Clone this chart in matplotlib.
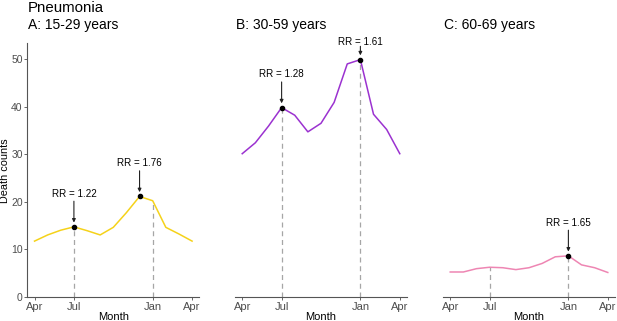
import matplotlib.pyplot as plt

plt.rcParams["font.family"] = ["Liberation Sans", "DejaVu Sans"]

# months from April (0) to the following April (12)
months = list(range(13))
tick_pos = [0, 3, 9, 12]
tick_labels = ["Apr", "Jul", "Jan", "Apr"]

panel_titles = ["A: 15-29 years", "B: 30-59 years", "C: 60-69 years"]
colors = ["#F5D21A", "#9B32D0", "#EE86B3"]

deaths_a = [11.7, 13.0, 14.0, 14.7, 13.9, 13.0, 14.6, 17.7, 21.1, 20.2, 14.6, 13.2, 11.7]
deaths_b = [30.1, 32.4, 35.9, 39.8, 38.2, 34.7, 36.5, 40.9, 49.0, 49.9, 38.4, 35.2, 30.1]
deaths_c = [5.2, 5.2, 5.9, 6.2, 6.1, 5.7, 6.1, 7.0, 8.4, 8.6, 6.7, 6.1, 5.1]
series = [deaths_a, deaths_b, deaths_c]

# peaks marked with a relative risk: (panel, month index, label)
peaks = [
    (0, 3, "RR = 1.22"),
    (0, 8, "RR = 1.76"),
    (1, 3, "RR = 1.28"),
    (1, 9, "RR = 1.61"),
    (2, 9, "RR = 1.65"),
]
dashed_months = [3, 9]

fig = plt.figure(figsize=(6.17, 3.21), dpi=100)
lefts = [27.3 / 617, 235 / 617, 443 / 617]
width = 172 / 617
bottom = 24.3 / 321
height = 253.7 / 321

axes = []
for i, vals in enumerate(series):
    ax = fig.add_axes([lefts[i], bottom, width, height])
    axes.append(ax)
    for m in dashed_months:
        ax.plot([m, m], [0, vals[m]], color="#A6A6A6", lw=0.9, ls=(0, (4, 3)), zorder=1)
    ax.plot(months, vals, color=colors[i], lw=1.1, zorder=2)
    ax.set_xlim(-0.55, 12.55)
    ax.set_ylim(0, 53.4)
    ax.set_xticks(tick_pos)
    ax.set_xticklabels(tick_labels)
    ax.tick_params(axis="x", labelsize=8, colors="#4D4D4D", length=2.5, width=0.6, pad=1)
    ax.set_xlabel("Month", fontsize=8, labelpad=0)
    for s in ["top", "right"]:
        ax.spines[s].set_visible(False)
    ax.spines["bottom"].set_color("#555555")
    ax.spines["bottom"].set_linewidth(0.8)
    if i == 0:
        ax.set_yticks([0, 10, 20, 30, 40, 50])
        ax.tick_params(axis="y", labelsize=7.5, colors="#4D4D4D", length=2.5, width=0.6, pad=0.8)
        ax.spines["left"].set_color("#555555")
        ax.spines["left"].set_linewidth(0.8)
    else:
        ax.spines["left"].set_visible(False)
        ax.set_yticks([])

for p, m, label in peaks:
    ax = axes[p]
    y = series[p][m]
    if p == 1 and m == 9:
        t_off, a_start = 3.8, 2.8
    else:
        t_off, a_start = 7.0, 5.4
    ax.plot(m, y, "o", color="black", ms=3, zorder=4)
    ax.annotate("", xy=(m, y + 0.9), xytext=(m, y + a_start),
                arrowprops=dict(arrowstyle="-|>", color="#222222", lw=0.8,
                                mutation_scale=5, shrinkA=0, shrinkB=0))
    ax.text(m, y + t_off, label, ha="center", va="center", fontsize=7.1)

fig.text(0, 1 - 171 / 321, "Death counts", fontsize=7.8, rotation=90,
         ha="left", va="center")
fig.text(28 / 617, 1 - 12.5 / 321, "Pneumonia", fontsize=10.8, ha="left", va="baseline")
title_x = [28 / 617, 236 / 617, 444 / 617]
for i, t in enumerate(panel_titles):
    fig.text(title_x[i], 1 - 28.5 / 321, t, fontsize=10, ha="left", va="baseline")

fig.savefig("out.png", dpi=100)
